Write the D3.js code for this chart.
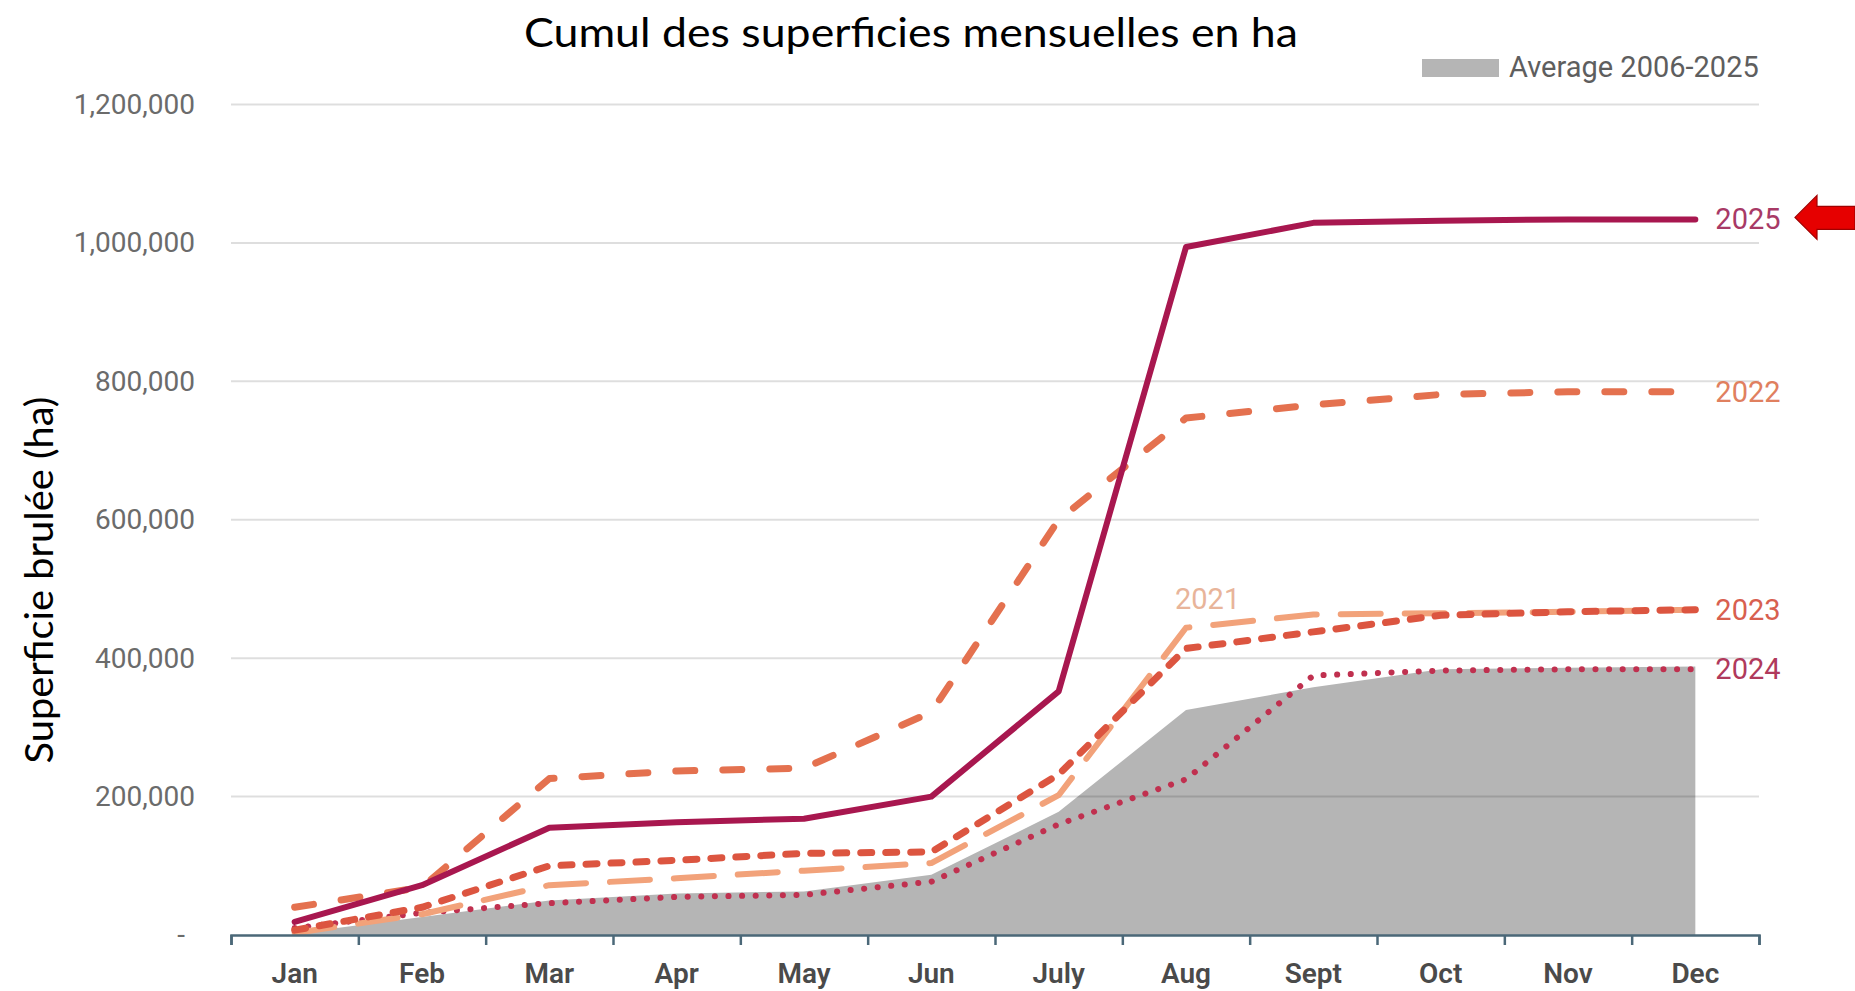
<!DOCTYPE html>
<html>
<head>
<meta charset="utf-8">
<script src="https://cdn.jsdelivr.net/npm/d3@7"></script>
<style>
  html, body { margin: 0; padding: 0; background: #fff; }
  svg { display: block; }
</style>
</head>
<body>
<svg id="chart" width="1855" height="991"></svg>
<script>
// ---------- DATA ----------
const months = ["Jan","Feb","Mar","Apr","May","Jun","July","Aug","Sept","Oct","Nov","Dec"];
const yTicks = [0, 200000, 400000, 600000, 800000, 1000000, 1200000];
const average = [2000, 26000, 50000, 60000, 63000, 87000, 178000, 325000, 358000, 384000, 386000, 388000];
const y2025 = [19000, 72000, 155000, 163000, 168000, 200000, 352000, 994000, 1029000, 1032000, 1034000, 1034000];
const y2022 = [40000, 69000, 226000, 237000, 241000, 322000, 600000, 747000, 766000, 781000, 785000, 785000];
const y2023 = [7000, 40000, 100000, 108000, 118000, 120000, 232000, 414000, 438000, 462000, 467000, 470000];
const y2021 = [3000, 30000, 72000, 82000, 93000, 104000, 202000, 444000, 463000, 465000, 467000, 470000];
const y2024 = [10000, 32000, 46000, 55000, 58000, 77000, 160000, 225000, 375000, 382000, 384000, 384000];
const titleText = "Cumul des superficies mensuelles en ha";
const yTitleText = "Superficie brulée (ha)";
const legendText = "Average 2006-2025";

(function () {
// ---------- LAYOUT ----------
const svg = d3.select("#chart");
const pLeft = 231, pRight = 1759, pTop = 104.5, pBottom = 935;

const x = d3.scaleBand().domain(months).range([pLeft, pRight]).paddingInner(0).paddingOuter(0);
const xc = m => x(m) + x.bandwidth() / 2;
const y = d3.scaleLinear().domain([0, 1200000]).range([pBottom, pTop]);

const condFont = "Roboto, 'Liberation Sans', sans-serif";
const titleFont = "Lato, 'Open Sans', sans-serif";

// Average area
const area = d3.area()
  .x((d, i) => xc(months[i]))
  .y0(y(0))
  .y1(d => y(d));
svg.append("path").datum(average)
  .attr("d", area)
  .attr("fill", "#b5b5b5");

// Gridlines
svg.append("g").selectAll("line")
  .data(yTicks.filter(d => d > 0))
  .join("line")
  .attr("x1", pLeft).attr("x2", pRight)
  .attr("y1", d => y(d)).attr("y2", d => y(d))
  .attr("stroke", "#000").attr("stroke-opacity", 0.13).attr("stroke-width", 2);

// Y axis labels
const yAxis = d3.axisLeft(y).tickValues(yTicks).tickSize(0).tickPadding(36)
  .tickFormat(d => d === 0 ? "-" : d3.format(",")(d));
const gy = svg.append("g").attr("transform", `translate(${pLeft},0)`).call(yAxis);
gy.select(".domain").remove();
gy.selectAll("text").attr("font-family", condFont).attr("font-size", 28).attr("fill", "#6b6b6b");
gy.selectAll(".tick").filter(d => d === 0).select("text").attr("x", -46);

// Lines
const line = d3.line().x((d, i) => xc(months[i])).y(d => y(d));
const series = [
  { name: "2024", data: y2024, color: "#c0304f", width: 6, dash: "0.1,13.5", label: "#b03a5c" },
  { name: "2021", data: y2021, color: "#f2a27a", width: 6, dash: "40,24", label: "#e8b49a" },
  { name: "2023", data: y2023, color: "#dc5540", width: 7, dash: "11,14", label: "#d8604f" },
  { name: "2022", data: y2022, color: "#e4714f", width: 7, dash: "19,28", label: "#e0805f" },
  { name: "2025", data: y2025, color: "#a8174f", width: 6, dash: null, label: "#a83a66" }
];
series.forEach(s => {
  svg.append("path").datum(s.data)
    .attr("d", line)
    .attr("fill", "none")
    .attr("stroke", s.color)
    .attr("stroke-width", s.width)
    .attr("stroke-linecap", "round")
    .attr("stroke-linejoin", "round")
    .attr("stroke-dasharray", s.dash);
});

// Line labels
series.forEach(s => {
  const last = s.data.length - 1;
  let lx, ly;
  if (s.name === "2021") {
    lx = xc(months[7]) - 11; ly = y(s.data[7]) - 29;
  } else {
    lx = xc(months[last]) + 20; ly = y(s.data[last]);
  }
  svg.append("text")
    .attr("x", lx).attr("y", ly)
    .attr("dominant-baseline", "central")
    .attr("font-family", condFont).attr("font-size", 29)
    .attr("fill", s.label)
    .text(s.name);
});

// X axis
const xAxis = d3.axisBottom(x).tickSize(0).tickPadding(28);
const gx = svg.append("g").attr("transform", `translate(0,${pBottom})`).call(xAxis);
gx.select(".domain").remove();
gx.selectAll("text").attr("font-family", condFont).attr("font-size", 28)
  .attr("font-weight", 600).attr("fill", "#4a4a4a");

const xb = d3.scaleLinear().domain([0, months.length]).range([pLeft, pRight]);
const gxb = svg.append("g").attr("transform", `translate(0,${pBottom})`)
  .call(d3.axisBottom(xb).ticks(months.length).tickSize(10).tickSizeOuter(10).tickFormat(""));
gxb.select(".domain").attr("stroke", "#4b6878").attr("stroke-width", 2.5);
gxb.selectAll(".tick line").attr("stroke", "#4b6878").attr("stroke-width", 2.5);

// Legend
svg.append("rect").attr("x", 1422).attr("y", 59).attr("width", 77).attr("height", 18).attr("fill", "#b5b5b5");
svg.append("text").attr("x", 1509).attr("y", 77)
  .attr("font-family", condFont).attr("font-size", 29).attr("fill", "#5e5e5e")
  .text(legendText);

// Title
svg.append("text").attr("x", 911).attr("y", 47)
  .attr("text-anchor", "middle")
  .attr("font-family", titleFont).attr("font-size", 40).attr("fill", "#000")
  .attr("textLength", 774).attr("lengthAdjust", "spacingAndGlyphs")
  .text(titleText);

// Y title
svg.append("text")
  .attr("transform", "translate(53,580) rotate(-90)")
  .attr("text-anchor", "middle")
  .attr("font-family", titleFont).attr("font-size", 38).attr("fill", "#000")
  .attr("textLength", 367).attr("lengthAdjust", "spacingAndGlyphs")
  .text(yTitleText);

// Red arrow annotation pointing at 2025
const tipX = 1795, tipY = y(y2025[y2025.length - 1]) - 2;
const arrow = d3.path();
arrow.moveTo(tipX, tipY);
arrow.lineTo(tipX + 22, tipY - 22);
arrow.lineTo(tipX + 22, tipY - 11);
arrow.lineTo(1855, tipY - 11);
arrow.lineTo(1855, tipY + 12);
arrow.lineTo(tipX + 22, tipY + 12);
arrow.lineTo(tipX + 22, tipY + 22);
arrow.closePath();
svg.append("path").attr("d", arrow.toString())
  .attr("fill", "#e60000").attr("stroke", "#a00000").attr("stroke-width", 1.2);
})();
</script>
</body>
</html>
